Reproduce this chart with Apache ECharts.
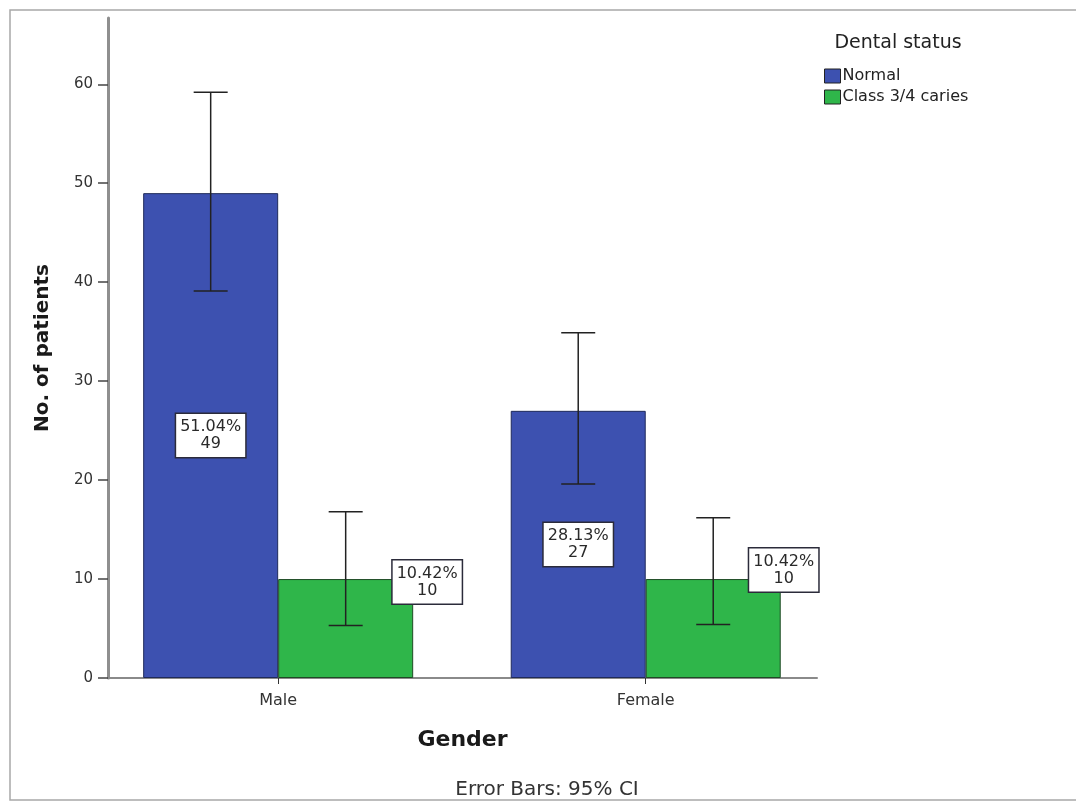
<!DOCTYPE html>
<html>
<head>
<meta charset="utf-8">
<title>Dental status by gender</title>
<script src="https://cdn.jsdelivr.net/npm/echarts@6/dist/echarts.min.js"></script>
<style>
  html, body { margin: 0; padding: 0; background: #fff; }
  #chart { width: 1076px; height: 808px; }
</style>
</head>
<body>
<div id="chart"></div>
<script>
// Patient counts by gender and dental status, with 95% confidence intervals
const genders = ['Male', 'Female'];
const statuses = ['Normal', 'Class 3/4 caries'];
const normalCounts = [49, 27];
const cariesCounts = [10, 10];
const normalPercents = ['51.04', '28.13'];
const cariesPercents = ['10.42', '10.42'];
const normalCI = [[39.1, 59.2], [19.6, 34.9]];
const cariesCI = [[5.3, 16.8], [5.4, 16.2]];
const yTicks = [0, 10, 20, 30, 40, 50, 60];

const FONT = '"DejaVu Sans", Verdana, sans-serif';
const BAR_W = 135;
const colors = ['#3d51b0', '#2fb64a'];

// genders sit at x = 1, 2 on a numeric axis so the bars can be placed freely
const xPos = genders.map((g, i) => i + 1);

const labelBox = {
  show: true,
  fontFamily: FONT,
  fontSize: 16,
  lineHeight: 17,
  color: '#2a2a2a',
  backgroundColor: '#fff',
  borderColor: '#2b2b3a',
  borderWidth: 1.5,
  padding: [5, 4, 4, 4],
  align: 'center'
};

// caries label boxes straddle the top-right corner of their bars
const cariesLabelShift = [[14, 3], [3, -9]];

function barData(counts, percents, shifts) {
  return counts.map((v, i) => {
    const item = { value: [xPos[i], v], pct: percents[i] };
    if (shifts) item.label = { offset: shifts[i] };
    return item;
  });
}

function errorSeries(name, ci, side) {
  return {
    name: name + ' CI',
    type: 'custom',
    z: 5,
    silent: true,
    data: ci.map((r, i) => [xPos[i], r[0], r[1]]),
    renderItem: function (params, api) {
      const lo = api.coord([api.value(0), api.value(1)]);
      const hi = api.coord([api.value(0), api.value(2)]);
      const x = lo[0] + side * BAR_W / 2;
      const cap = 17;
      const style = { stroke: '#222', lineWidth: 1.5 };
      return {
        type: 'group',
        children: [
          { type: 'line', shape: { x1: x, y1: lo[1], x2: x, y2: hi[1] }, style },
          { type: 'line', shape: { x1: x - cap, y1: hi[1], x2: x + cap, y2: hi[1] }, style },
          { type: 'line', shape: { x1: x - cap, y1: lo[1], x2: x + cap, y2: lo[1] }, style }
        ]
      };
    }
  };
}

const chart = echarts.init(document.getElementById('chart'), null, { renderer: 'canvas' });

chart.setOption({
  animation: false,
  backgroundColor: '#fff',
  textStyle: { fontFamily: FONT },
  graphic: [{
    type: 'rect',
    shape: { x: 10, y: 10, width: 1090, height: 790 },
    style: { fill: 'none', stroke: '#a8a8a8', lineWidth: 1.5 },
    z: -1
  }],
  title: [{
    text: 'Error Bars: 95% CI',
    left: 542,
    top: 775,
    textAlign: 'center',
    textStyle: { fontFamily: FONT, fontSize: 20, fontWeight: 'normal', color: '#333' }
  }, {
    text: 'Dental status',
    left: 893,
    top: 29,
    textAlign: 'center',
    textStyle: { fontFamily: FONT, fontSize: 19, fontWeight: 'normal', color: '#222' }
  }],
  legend: {
    data: statuses,
    orient: 'vertical',
    left: 819,
    top: 63,
    itemWidth: 16,
    itemHeight: 14,
    itemGap: 5,
    icon: 'rect',
    textStyle: { fontFamily: FONT, fontSize: 16, color: '#222', padding: [0, 0, 0, -3] },
    itemStyle: { borderColor: '#222', borderWidth: 1 }
  },
  grid: { left: 108, right: 259, top: 18, bottom: 130 },
  xAxis: {
    type: 'value',
    min: 0.537,
    max: 2.466,
    name: 'Gender',
    nameLocation: 'middle',
    nameGap: 51,
    nameTextStyle: { fontFamily: FONT, fontSize: 22, fontWeight: 'bold', color: '#1a1a1a' },
    splitLine: { show: false },
    axisLine: { show: true, lineStyle: { color: '#8a8a8a', width: 2 } },
    axisTick: { show: true, customValues: xPos, length: 6, lineStyle: { color: '#333', width: 1 } },
    axisLabel: {
      customValues: xPos,
      formatter: v => genders[Math.round(v) - 1] || '',
      fontFamily: FONT,
      fontSize: 16,
      color: '#333',
      margin: 15
    }
  },
  yAxis: {
    type: 'value',
    min: 0,
    max: 66.7,
    name: 'No. of patients',
    nameLocation: 'middle',
    nameGap: 55,
    nameTextStyle: { fontFamily: FONT, fontSize: 20, fontWeight: 'bold', color: '#1a1a1a' },
    splitLine: { show: false },
    axisLine: { show: true, lineStyle: { color: '#8f8f8f', width: 3 } },
    axisTick: { show: true, customValues: yTicks, length: 10, lineStyle: { color: '#444', width: 1.5 } },
    axisLabel: {
      customValues: yTicks,
      fontFamily: FONT,
      fontSize: 15,
      color: '#333',
      margin: 15
    }
  },
  series: [
    {
      name: statuses[0],
      type: 'bar',
      barWidth: BAR_W,
      barGap: '0%',
      data: barData(normalCounts, normalPercents),
      itemStyle: { color: colors[0], borderColor: '#1f2a5a', borderWidth: 1 },
      label: Object.assign({}, labelBox, {
        position: 'inside',
        formatter: p => p.data.pct + '%\n' + p.data.value[1]
      })
    },
    {
      name: statuses[1],
      type: 'bar',
      barWidth: BAR_W,
      barGap: '0%',
      data: barData(cariesCounts, cariesPercents, cariesLabelShift),
      itemStyle: { color: colors[1], borderColor: '#1f4a25', borderWidth: 1 },
      label: Object.assign({}, labelBox, {
        position: ['100%', 0],
        verticalAlign: 'middle',
        formatter: p => p.data.pct + '%\n' + p.data.value[1]
      })
    },
    errorSeries(statuses[0], normalCI, -1),
    errorSeries(statuses[1], cariesCI, 1)
  ]
});
</script>
</body>
</html>
